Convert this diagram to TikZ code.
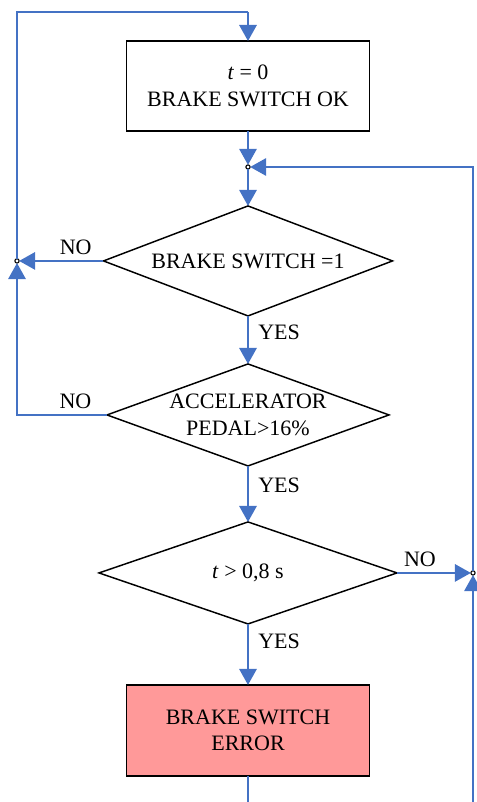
\documentclass[tikz,border=0pt]{standalone}
\usepackage{fontspec}
\setmainfont{Liberation Serif}
\usepackage{tikz}
\usetikzlibrary{shapes,arrows.meta,positioning,calc}
\usepackage{xcolor}
\definecolor{flowblue}{HTML}{4472C4}
\definecolor{errred}{HTML}{FF9999}

\begin{document}
\begin{tikzpicture}[
    font=\fontsize{16.5}{20}\selectfont,
    block/.style={draw, line width=1.1pt, fill=white, rectangle, outer sep=0pt, minimum height=67.5pt, minimum width=182pt, align=center},
    errblock/.style={block, fill=errred},
    decision/.style={draw, line width=1.1pt, diamond, inner sep=0pt, outer sep=0pt, align=center},
    dot/.style={circle, draw, fill=white, inner sep=0pt, outer sep=0pt, minimum size=3.2pt, line width=0.8pt},
    line/.style={flowblue, line width=1.5pt},
    arrow/.style={line, -{Triangle[length=12pt,width=13pt]}},
    lbl/.style={text=black, inner sep=4pt},
    yes/.style={lbl, right, xshift=3pt}
]
    \useasboundingbox (-186pt,64.5pt) rectangle (171pt,-537pt);

    % Draw nodes
    \node (start) [block] {\textit{t} = 0\\BRAKE SWITCH OK};
    \node (j1) [dot, below=25.4pt of start] {};
    \node (brake) [decision, below=27.6pt of j1, minimum width=216.75pt, minimum height=82.5pt, aspect=2.63] {BRAKE SWITCH =1};
    \node (pedal) [decision, below=36pt of brake, minimum width=211.5pt, minimum height=76.5pt, aspect=2.76] {ACCELERATOR\\PEDAL>16\%};
    \node (timer) [decision, below=42pt of pedal, minimum width=223.5pt, minimum height=76.5pt, aspect=2.92] {\textit{t} > 0,8 s};
    \node (error) [errblock, below=45.75pt of timer, minimum height=68.25pt] {BRAKE SWITCH\\ERROR};

    \coordinate [above=21.75pt of start] (top);
    \node (j2) [dot] at ($(brake.center)+(-173.25pt,0)$) {};
    \node (j3) [dot] at ($(timer.center)+(168.75pt,0)$) {};
    \coordinate [below=19.5pt of error] (bot);
    \coordinate (botr) at (j3 |- bot);

    % Draw connections
    \draw [arrow] (start) -- (j1);
    \draw [arrow] (j1) -- (brake);
    \draw [arrow] (brake) -- node[yes, pos=0.35] {YES} (pedal);
    \draw [arrow] (pedal) -- node[yes, pos=0.34] {YES} (timer);
    \draw [arrow] (timer) -- node[yes, pos=0.28] {YES} (error);
    \draw [line] (error) -- (bot);

    \draw [arrow] (brake) -- node[lbl, above, pos=0.33] {NO} (j2);
    \draw [arrow] (pedal) -| node[lbl, above, pos=0.175] {NO} (j2);
    \draw [line] (j2) |- (top);
    \draw [arrow] (top) -- (start);

    \draw [arrow] (timer) -- node[lbl, above, pos=0.31] {NO} (j3);
    \draw [arrow] (botr) -- (j3);
    \draw [arrow] (j3) |- (j1);

\end{tikzpicture}
\end{document}
